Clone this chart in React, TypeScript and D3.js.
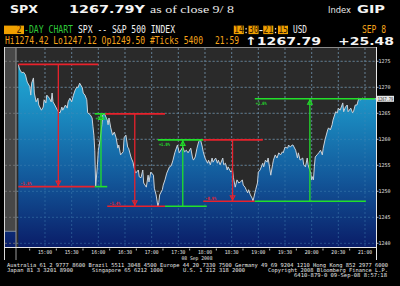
import React from "react";
import * as d3 from "d3";

// ---------- data ----------
// minutes since 14:30 on 08 Sep 2008
const times = [0,1,2,4,6,8,10,13,14,15,17,18,20,22,23,26,28,29,31,32,35,37,38,39,41,44,45,47,49,50,53,55,56,58,60,62,64,66,67,69,72,73,75,77,78,81,83,84,85,86,87,89,90,92,94,95,97,100,101,102,104,106,108,110,112,113,115,118,119,121,123,124,127,129,130,132,135,136,138,140,141,144,146,147,149,152,153,155,157,158,159,162,163,165,167,170,172,174,176,179,181,185,187,189,191,194,196,197,199,201,203,205,207,208,210,213,214,216,218,219,222,224,225,227,230,231,233,235,236,239,241,242,244,246,248,250,252,253,255,258,259,261,263,264,267,269,270,272,275,276,278,280,281,284,286,287,289,291,293,295,297,298,300,303,304,306,308,309,312,314,315,317,320,321,323,325,326,329,330,331,332,333,334,336,338,340,342,343,345,348,349,351,353,354,357,359,360,362,365,366,368,370,371,374,376,377,379,381,383,385,387,388,390,405];
const prices = [1274.4,1273.7,1273.3,1272.8,1272.9,1272.4,1271.0,1270.1,1268.5,1270.8,1271.8,1268.9,1267.2,1267.9,1266.6,1265.6,1266.2,1267.6,1267.0,1268.5,1267.9,1267.2,1268.9,1267.2,1266.6,1265.6,1265.3,1265.1,1266.2,1265.6,1266.6,1266.0,1267.2,1267.9,1267.2,1268.5,1269.5,1270.1,1269.9,1270.8,1269.9,1268.9,1268.5,1267.6,1265.1,1264.7,1264.1,1262.4,1260.8,1257.9,1250.9,1255.1,1257.9,1259.9,1262.8,1264.7,1264.9,1263.7,1262.8,1264.1,1262.2,1260.8,1261.4,1260.3,1258.3,1258.9,1257.0,1257.6,1260.3,1260.8,1258.5,1258.3,1256.4,1255.6,1254.7,1253.5,1254.1,1252.8,1252.6,1254.1,1251.6,1250.8,1253.1,1251.8,1253.7,1253.1,1250.6,1249.3,1247.12,1247.8,1249.3,1250.3,1251.2,1252.2,1253.5,1254.7,1254.9,1256.0,1257.4,1258.9,1257.4,1258.5,1257.6,1257.9,1257.4,1258.3,1256.4,1256.0,1256.6,1258.3,1259.6,1259.9,1258.5,1257.6,1256.4,1255.4,1256.0,1255.1,1256.4,1255.6,1256.4,1255.4,1256.0,1255.1,1256.4,1255.1,1255.4,1254.1,1254.7,1253.7,1254.1,1252.6,1250.8,1252.2,1251.6,1251.8,1252.2,1251.2,1250.8,1249.7,1250.3,1249.3,1248.7,1248.1,1250.3,1251.6,1253.7,1254.1,1255.4,1254.7,1256.0,1255.6,1256.4,1253.1,1255.1,1256.0,1257.0,1256.4,1257.4,1257.0,1257.6,1257.4,1258.5,1258.3,1258.9,1258.5,1258.9,1258.9,1257.9,1256.4,1257.4,1256.0,1256.4,1255.1,1254.7,1256.4,1255.1,1253.5,1252.2,1252.8,1252.2,1254.7,1256.6,1257.0,1257.4,1257.9,1257.0,1258.3,1259.9,1261.8,1262.2,1261.8,1262.8,1263.7,1265.3,1265.1,1266.0,1265.6,1267.0,1265.3,1266.2,1266.6,1265.3,1266.0,1265.1,1265.3,1266.6,1266.6,1267.9,1267.6,1267.9,1267.8,1267.79,1267.79];

const prevClose = 1242.31;
const lastPrice = 1267.79;

const timeLabels = ["15:00","15:30","16:00","16:30","17:00","17:30","18:00","18:30","19:00","19:30","20:00","20:30","21:00"];
const timeLabelMinutes = [30,60,90,120,150,180,210,240,270,300,330,360,390];
const tickMinutes = [15,45,75,105,135,165,195,225,255,285,315,345,375];
const priceTicks = [1240,1245,1250,1255,1260,1265,1270,1275];

// Bloomberg swing annotations
const swingUp = [false,true,false,true,false,true];
const swingLabels = ["-1.8%","+1.1%","-1.4%","+1.0%","-0.9%","+1.6%"];
const swingHigh = [1274.42,1264.9,1264.9,1259.9,1259.9,1267.79];
const swingLow = [1250.9,1250.9,1247.12,1247.12,1248.1,1248.1];
const swingTopStart = [0,86,98,157,208,266];
const swingTopEnd = [90,98,165,208,275,401];
const swingBotStart = [0,86,100,165,208,266];
const swingBotEnd = [86,100,165,212,266,391];
const swingMid = [45,93,131,185,241,328];

// chart period field
const rangeText = "14:30-21:15";
const rangeBoxSlots = [0, 3, 6, 9];
const rangeColonSlots = [2, 8];
const rangeDashSlots = [5];

const footer1 = "Australia 61 2 9777 8600 Brazil 5511 3048 4500 Europe 44 20 7330 7500 Germany 49 69 9204 1210 Hong Kong 852 2977 6000";

// ---------- layout ----------
const W = 400, H = 286;
const plotL = 16, plotR = 376, plotT = 48, plotB = 247;

const x = d3.scaleLinear().domain([0, 405]).range([18.33, 378.33]);
const y = d3.scaleLinear().domain([1239.29, 1277.56]).range([plotB, plotT]);

const RED = "#e8222c";
const GREEN = "#22e02a";
const ORANGE = "#f5a31a";
const MONO = "'DejaVu Sans Mono', monospace";
const SANS = "'DejaVu Sans', sans-serif";
const L2 = 33.3; // baseline of header line 2

const T = (props: any) => <text {...props} lengthAdjust="spacingAndGlyphs" />;

// terminal-style text: natural width ~ target width, stretched vertically
const M = ({ x0, y0, w, fill, size = 8, sy = 1.22, family = MONO, weight = "normal", children }: any) => (
  <text
    transform={`translate(${x0},${y0}) scale(1,${sy})`}
    x={0}
    y={0}
    textLength={w}
    lengthAdjust="spacingAndGlyphs"
    fontFamily={family}
    fontWeight={weight}
    fontSize={size}
    fill={fill}
  >
    {children}
  </text>
);

export default function App() {
  const pts = times.map((t, i) => [t, prices[i]] as [number, number]);
  const area = d3.area<[number, number]>().x(d => x(d[0])).y0(plotB).y1(d => y(d[1]));
  const line = d3.line<[number, number]>().x(d => x(d[0])).y(d => y(d[1]));

  const rangeX = 234, rangeW = 54, cw = rangeW / rangeText.length;

  return (
    <svg width={W} height={H} style={{ position: "fixed", left: 0, top: 0, display: "block" }}>
      <defs>
        <linearGradient id="fillGrad" gradientUnits="userSpaceOnUse" x1="0" y1="60" x2="0" y2="247">
          <stop offset="0" stopColor="#22aed8" />
          <stop offset="0.3" stopColor="#1a88be" />
          <stop offset="0.62" stopColor="#135a9c" />
          <stop offset="1" stopColor="#0a1d68" />
        </linearGradient>
        <clipPath id="plotClip">
          <rect x={plotL} y={plotT} width={plotR - plotL} height={plotB - plotT} />
        </clipPath>
      </defs>
      <rect x={0} y={0} width={W} height={H} fill="#000" />

      {/* header */}
      <T x={10} y={13} textLength={28} fontFamily={SANS} fontWeight="bold" fontSize={11} fill="#f4f4f4">SPX</T>
      <T x={69} y={13} textLength={76} fontFamily={SANS} fontWeight="bold" fontSize={11} fill="#f4f4f4">1267.79Y</T>
      <T x={150} y={13} textLength={84} fontFamily="'Liberation Serif', serif" fontSize={11} fill="#e8e8e8">as of close 9/ 8</T>
      <T x={328} y={13} textLength={23} fontFamily={SANS} fontSize={9} fill="#e8e8e8">Index</T>
      <T x={357} y={13} textLength={28} fontFamily={SANS} fontWeight="bold" fontSize={11} fill="#f4f4f4">GIP</T>

      <rect x={4} y={25.6} width={20} height={8.5} fill="#f0a000" />
      <M x0={16.5} y0={L2} w={5} fill="#3a1e00">2</M>
      <M x0={24} y0={L2} w={49} fill="#2fc83a">-DAY CHART</M>
      <M x0={78} y0={L2} w={97} fill="#f0f0f0">SPX -- S&amp;P 500 INDEX</M>

      {/* 14:30-21:15 : orange fields with white separators */}
      {rangeBoxSlots.map(s => (
        <rect key={"rb" + s} x={rangeX + s * cw - 0.2} y={25.6} width={cw * 2 + 0.2} height={8.5} fill="#f0a000" />
      ))}
      <M x0={rangeX} y0={L2} w={rangeW} fill="#3a1e00">{rangeText}</M>
      {rangeColonSlots.map(s => (
        <g key={"rc" + s} fill="#f0f0f0">
          <rect x={rangeX + s * cw + 1.6} y={28.2} width={1.3} height={1.3} />
          <rect x={rangeX + s * cw + 1.6} y={31.9} width={1.3} height={1.3} />
        </g>
      ))}
      {rangeDashSlots.map(s => (
        <rect key={"rd" + s} x={rangeX + s * cw + 0.8} y={30} width={3.2} height={1.1} fill="#f0f0f0" />
      ))}

      <M x0={293} y0={L2} w={14} fill="#f0f0f0">USD</M>
      <M x0={362} y0={L2} w={24} fill={ORANGE}>SEP 8</M>

      <M x0={5} y0={44} w={198} fill={ORANGE}>Hi1274.42 Lo1247.12 Op1249.50 #Ticks 5400</M>
      <M x0={215} y0={44} w={24} fill={ORANGE}>21:59</M>
      <M x0={245} y0={44.6} w={76} size={9} sy={1.26} family={SANS} weight="bold" fill="#f4f4f4">↑1267.79</M>
      <M x0={338} y0={44.6} w={56} size={9} sy={1.26} family={SANS} weight="bold" fill="#f4f4f4">+25.48</M>

      {/* plot background */}
      <rect x={plotL} y={plotT} width={plotR - plotL} height={plotB - plotT} fill="#2a2a2a" />
      <rect x={5} y={plotT} width={plotL - 5} height={plotB - plotT} fill="#474747" />
      <rect x={5} y={y(prevClose)} width={plotL - 5} height={plotB - y(prevClose)} fill="url(#fillGrad)" />
      <line x1={5} x2={plotL} y1={y(prevClose)} y2={y(prevClose)} stroke="#9aa4b0" strokeWidth={0.8} />

      {/* grid under area */}
      <g stroke="#787878" strokeWidth={0.8} strokeDasharray="2,2">
        {priceTicks.map(p => <line key={"h" + p} x1={5} x2={plotR} y1={y(p)} y2={y(p)} />)}
        {timeLabelMinutes.map(m => <line key={"v" + m} x1={x(m)} x2={x(m)} y1={plotT} y2={plotB} />)}
      </g>

      <g clipPath="url(#plotClip)">
        <path d={area(pts) || ""} fill="url(#fillGrad)" />
        <g stroke="#4a8ab8" strokeWidth={0.8} strokeDasharray="2,2" opacity={0.55}>
          {priceTicks.map(p => <line key={"h2" + p} x1={plotL} x2={plotR} y1={y(p)} y2={y(p)} />)}
          {timeLabelMinutes.map(m => <line key={"v2" + m} x1={x(m)} x2={x(m)} y1={plotT} y2={plotB} />)}
        </g>
        <path d={line(pts) || ""} fill="none" stroke="#c9d2da" strokeWidth={1} />
      </g>

      {/* swing annotations */}
      {swingUp.map((up, i) => {
        const c = up ? GREEN : RED;
        const yh = y(swingHigh[i]);
        const yl = y(swingLow[i]);
        const xm = x(swingMid[i]);
        return (
          <g key={"sw" + i}>
            <line x1={x(swingTopStart[i])} x2={Math.min(x(swingTopEnd[i]), plotR)} y1={yh} y2={yh} stroke={c} strokeWidth={1.6} />
            <line x1={x(swingBotStart[i])} x2={Math.min(x(swingBotEnd[i]), plotR)} y1={yl} y2={yl} stroke={c} strokeWidth={1.6} />
            <line x1={xm} x2={xm} y1={yh} y2={yl} stroke={c} strokeWidth={1.3} />
            {up ? (
              <path d={`M${xm},${yh + 1.2} L${xm - 2.3},${yh + 5.5} L${xm + 2.3},${yh + 5.5} Z`} fill="none" stroke={c} strokeWidth={1.1} />
            ) : (
              <path d={`M${xm},${yl - 1.2} L${xm - 2.3},${yl - 5.5} L${xm + 2.3},${yl - 5.5} Z`} fill="none" stroke={c} strokeWidth={1.1} />
            )}
            {up ? (
              <T x={x(swingTopStart[i]) + 1} y={yh + 6} textLength={11} fontFamily={MONO} fontWeight="bold" fontSize={4.5} fill={c}>{swingLabels[i]}</T>
            ) : (
              <T x={x(swingBotStart[i]) + 2} y={yl - 1.6} textLength={11} fontFamily={MONO} fontWeight="bold" fontSize={4.5} fill={c}>{swingLabels[i]}</T>
            )}
          </g>
        );
      })}

      {/* frame */}
      <line x1={4} x2={plotR} y1={47.5} y2={47.5} stroke="#8a8a8a" strokeWidth={1} />
      <line x1={4.5} x2={4.5} y1={47} y2={260} stroke="#d8d8d8" strokeWidth={1} />
      <line x1={plotL} x2={plotL} y1={plotT} y2={260} stroke="#9a9a9a" strokeWidth={1} />
      <line x1={4} x2={plotR} y1={plotB + 0.5} y2={plotB + 0.5} stroke="#e8e8e8" strokeWidth={1} />
      <line x1={plotR + 0.5} x2={plotR + 0.5} y1={47} y2={260} stroke="#e8e8e8" strokeWidth={1} />

      {/* x axis */}
      {tickMinutes.map(m => (
        <line key={"t" + m} x1={x(m) - 2} x2={x(m) - 2} y1={248.5} y2={250.5} stroke="#e0e0e0" strokeWidth={0.8} />
      ))}
      {timeLabels.map((l, i) => (
        <T key={l} x={x(timeLabelMinutes[i])} y={254.3} textLength={14} textAnchor="middle" fontFamily={MONO} fontSize={5.5} fill="#e8e8e8">{l}</T>
      ))}
      <T x={197} y={259.8} textLength={31} textAnchor="middle" fontFamily={MONO} fontSize={5} fill="#e8e8e8">08 Sep 2008</T>

      {/* y axis */}
      {priceTicks.map(p => (
        <g key={"yl" + p}>
          <line x1={plotR} x2={plotR + 2.5} y1={y(p)} y2={y(p)} stroke="#e0e0e0" strokeWidth={0.8} />
          <T x={378.5} y={y(p) + 2} textLength={12} fontFamily={MONO} fontSize={5} fill="#e0e0e0">{String(p)}</T>
        </g>
      ))}
      <rect x={377} y={y(lastPrice) - 3} width={17} height={6} fill="#e6e6e6" />
      <T x={377.8} y={y(lastPrice) + 1.9} textLength={15.5} fontFamily={MONO} fontSize={5} fill="#202020">{String(lastPrice)}</T>

      {/* footer */}
      <T x={7} y={266.5} textLength={381} fontFamily={MONO} fontSize={5.4} fill="#e6e6e6">{footer1}</T>
      <T x={7} y={271.5} textLength={66} fontFamily={MONO} fontSize={5.4} fill="#e6e6e6">Japan 81 3 3201 8900</T>
      <T x={92} y={271.5} textLength={71} fontFamily={MONO} fontSize={5.4} fill="#e6e6e6">Singapore 65 6212 1000</T>
      <T x={183} y={271.5} textLength={62} fontFamily={MONO} fontSize={5.4} fill="#e6e6e6">U.S. 1 212 318 2000</T>
      <T x={268} y={271.5} textLength={120} fontFamily={MONO} fontSize={5.4} fill="#e6e6e6">Copyright 2008 Bloomberg Finance L.P.</T>
      <T x={294} y={276.5} textLength={93} fontFamily={MONO} fontSize={5.4} fill="#e6e6e6">6410-879-0 09-Sep-08  8:57:18</T>
    </svg>
  );
}
